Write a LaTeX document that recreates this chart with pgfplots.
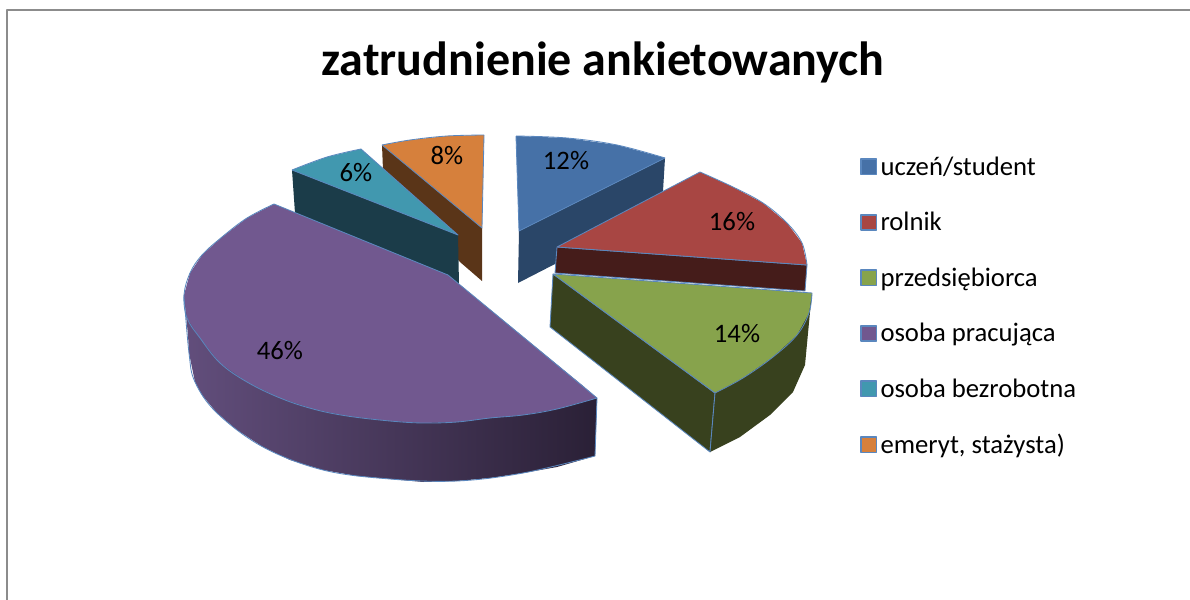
\documentclass[border=0pt]{standalone}
\usepackage{pgfplots}
\pgfplotsset{compat=1.18}
\usepackage{fontspec}
\setmainfont{Carlito}

\definecolor{edge}{RGB}{90,135,190}
\definecolor{blue1}{RGB}{70,113,167}
\definecolor{blue2}{RGB}{42,70,104}
\definecolor{red1}{RGB}{168,70,67}
\definecolor{red2}{RGB}{69,28,26}
\definecolor{green1}{RGB}{135,163,76}
\definecolor{green2}{RGB}{56,65,30}
\definecolor{purple1}{RGB}{113,88,143}
\definecolor{purple2}{RGB}{98,78,124}
\definecolor{purple3}{RGB}{42,32,54}
\definecolor{teal1}{RGB}{65,152,175}
\definecolor{teal2}{RGB}{27,60,73}
\definecolor{orange1}{RGB}{214,128,60}
\definecolor{orange2}{RGB}{90,53,24}

\pgfplotsset{
    face/.style={forget plot, draw=none, fill=#1},
    rim/.style={forget plot, draw=edge, smooth, tension=0.6},
    straight/.style={forget plot, draw=edge},
}

\begin{document}
\begin{tikzpicture}
\begin{axis}[
    scale only axis,
    width=714pt,
    height=360pt,
    xmin=0, xmax=1190,
    ymin=0, ymax=600,
    y dir=reverse,
    hide axis,
    legend cell align=left,
    legend image code/.code={\draw[#1] (-1.2pt,-4.3pt) rectangle (7.9pt,4.8pt);},
    legend style={at={(axis cs:860,153)}, anchor=north west, draw=none, fill=none,
        font=\fontsize{16pt}{19pt}\selectfont, row sep=16.7pt, inner sep=0pt},
    every axis plot/.append style={line width=0.5pt, line join=round},
]
% page and frame
\addplot[forget plot, draw=none, fill=white] coordinates {(0,0)(1190,0)(1190,600)(0,600)(0,0)};
\addplot[forget plot, draw=black!45, line width=1.2pt] coordinates {(1190,10)(7,10)(7,600)};

% orange slice
\addplot[face=orange2] coordinates {(382,145)(482,228)(482,281)(460,262)(383,170)(382,145)};
\addplot[face=orange1] coordinates {(382,145)(410,140)(447,136)(484,135)(482,228)(382,145)};
\addplot[rim] coordinates {(382,145)(410,140)(447,136)(484,135)};
\addplot[straight] coordinates {(484,135)(482,228)(382,145)};

% teal slice
\addplot[face=teal2] coordinates {(292,170)(458,235)(459,285)(448,275)(295,213)(292,170)};
\addplot[face=teal1] coordinates {(292,170)(327,157)(361,149)(458,235)(292,170)};
\addplot[rim] coordinates {(292,170)(327,157)(361,149)};
\addplot[straight] coordinates {(361,149)(458,235)(292,170)};

% purple slice
\addplot[forget plot, draw=none, left color=purple2, right color=purple3] coordinates {
    (184,295)(188,335)(189,353)(195,382)(202,395)(217,413)(237,430)(263,447)(290,460)
    (323,470)(357,476)(390,479)(423,482)(457,481)(490,478)(523,473)(557,467)(595,456)(597,398)(184,295)};
\addplot[rim] coordinates {
    (184,295)(189,353)(195,382)(217,413)(263,447)(323,470)(390,479)(457,481)(523,473)(595,456)};
\addplot[straight] coordinates {(595,456)(597,398)};
\addplot[face=purple1] coordinates {
    (274,204)(448,275)(582,385)(597,398)(557,409)(523,415)(490,418)(457,422)(423,423)(390,421)
    (347,416)(313,409)(280,398)(247,382)(220,363)(200,338)(187,318)(184,295)(190,273)(202,255)
    (222,237)(247,218)(274,204)};
\addplot[rim] coordinates {
    (274,204)(247,218)(222,237)(202,255)(190,273)(184,295)(187,318)(200,338)(220,363)(247,382)
    (280,398)(313,409)(347,416)(390,421)(423,423)(457,422)(490,418)(523,415)(557,409)(597,398)};
\addplot[straight] coordinates {(597,398)(448,275)(274,204)};

% blue slice
\addplot[face=blue2] coordinates {(665,158)(519,231)(518,283)(555,264)(663,191)(665,158)};
\addplot[face=blue1] coordinates {(516,136)(567,138)(617,145)(665,158)(519,231)(516,136)};
\addplot[rim] coordinates {(516,136)(567,138)(617,145)(665,158)};
\addplot[straight] coordinates {(665,158)(519,231)(516,136)};

% red slice
\addplot[forget plot, draw=edge, fill=red2] coordinates {(557,247)(807,265)(805,291)(555,273)(557,247)};
\addplot[face=red1] coordinates {(700,172)(733,187)(763,203)(787,223)(802,243)(807,265)(557,247)(700,172)};
\addplot[rim] coordinates {(700,172)(733,187)(763,203)(787,223)(802,243)(807,265)};
\addplot[straight] coordinates {(807,265)(557,247)(700,172)};

% green slice
\addplot[forget plot, draw=edge, fill=green2] coordinates {(553,274)(715,393)(710,452)(550,327)(553,274)};
\addplot[face=green2] coordinates {(812,293)(810,312)(805,365)(793,392)(770,415)(740,437)(710,452)(715,393)(812,293)};
\addplot[straight] coordinates {(710,452)(715,393)};
\addplot[face=green1] coordinates {(553,274)(812,293)(809,313)(797,335)(773,357)(743,378)(715,393)(553,274)};
\addplot[rim] coordinates {(812,293)(809,313)(797,335)(773,357)(743,378)(715,393)};
\addplot[straight] coordinates {(715,393)(553,274)(812,293)};

% legend
\addlegendimage{draw=edge, line width=1pt, fill=blue1}
\addlegendentry{uczeń/student}
\addlegendimage{draw=edge, line width=1pt, fill=red1}
\addlegendentry{rolnik}
\addlegendimage{draw=edge, line width=1pt, fill=green1}
\addlegendentry{przedsiębiorca}
\addlegendimage{draw=edge, line width=1pt, fill=purple1}
\addlegendentry{osoba pracująca}
\addlegendimage{draw=edge, line width=1pt, fill=teal1}
\addlegendentry{osoba bezrobotna}
\addlegendimage{draw=edge, line width=1pt, fill=orange1}
\addlegendentry{emeryt, stażysta)}

% labels
\node[font=\fontsize{28.8pt}{32pt}\bfseries\selectfont] at (axis cs:603,62) {zatrudnienie ankietowanych};
\begin{scope}[every node/.style={font=\fontsize{16pt}{19pt}\selectfont}]
\node at (axis cs:566,161) {12\%};
\node at (axis cs:732,222) {16\%};
\node at (axis cs:737,334) {14\%};
\node at (axis cs:280,351) {46\%};
\node at (axis cs:356,173) {6\%};
\node at (axis cs:447,156) {8\%};
\end{scope}
\end{axis}
\end{tikzpicture}
\end{document}
